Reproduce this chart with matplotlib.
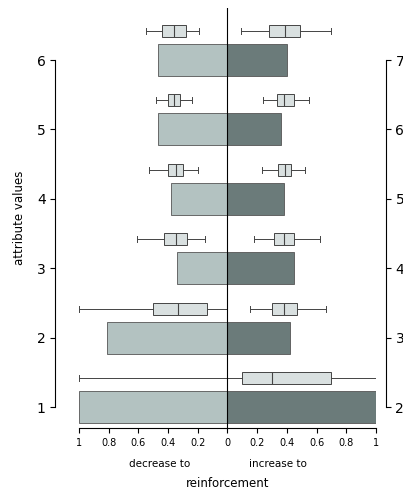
import matplotlib
matplotlib.use("Agg")
import matplotlib.pyplot as plt

levels = [1, 2, 3, 4, 5, 6]
right_labels = ["2", "3", "4", "5", "6", "7"]
decrease = [1.0, 0.81, 0.34, 0.38, 0.47, 0.47]
increase = [1.0, 0.42, 0.45, 0.38, 0.36, 0.40]

# box stats as (whislo, q1, med, q3, whishi), signed: left side negative
left_boxes = [None,
              (-1.0, -0.50, -0.33, -0.14, 0.0),
              (-0.61, -0.43, -0.35, -0.27, -0.15),
              (-0.53, -0.40, -0.35, -0.30, -0.20),
              (-0.48, -0.40, -0.36, -0.32, -0.24),
              (-0.55, -0.44, -0.36, -0.28, -0.19)]
right_boxes = [(-1.0, 0.10, 0.30, 0.70, 1.0),
               (0.15, 0.30, 0.38, 0.47, 0.66),
               (0.18, 0.31, 0.38, 0.45, 0.62),
               (0.23, 0.34, 0.39, 0.43, 0.52),
               (0.24, 0.33, 0.38, 0.45, 0.55),
               (0.09, 0.28, 0.39, 0.49, 0.70)]

fig = plt.figure(figsize=(4.03, 4.96), dpi=100)
ax = fig.add_axes([0.196, 0.137, 0.737, 0.847])

ax.barh(levels, [-d for d in decrease], height=0.46, color="#b3c2c1", edgecolor="#555555", linewidth=0.6)
ax.barh(levels, increase, height=0.46, color="#6b7b7a", edgecolor="#555555", linewidth=0.6)

stats = []
pos = []
for lv, lb, rb in zip(levels, left_boxes, right_boxes):
    for b in (lb, rb):
        if b is None:
            continue
        stats.append(dict(whislo=b[0], q1=b[1], med=b[2], q3=b[3], whishi=b[4], fliers=[]))
        pos.append(lv + 0.42)
ax.bxp(stats, positions=pos, orientation="horizontal", widths=0.17, patch_artist=True,
       boxprops=dict(facecolor="#d9e0e0", edgecolor="#444444", linewidth=0.7),
       medianprops=dict(color="#444444", linewidth=0.8),
       whiskerprops=dict(color="#444444", linewidth=0.7),
       capprops=dict(color="#444444", linewidth=0.7))

ax.axvline(0, color="black", linewidth=0.8)
ax.set_xlim(-1.0, 1.0)
ax.set_ylim(0.7, 6.75)
ax.set_xticks([-1, -0.8, -0.6, -0.4, -0.2, 0, 0.2, 0.4, 0.6, 0.8, 1])
ax.set_xticklabels(["1", "0.8", "0.6", "0.4", "0.2", "0", "0.2", "0.4", "0.6", "0.8", "1"], fontsize=7)
ax.set_yticks(levels)
ax.set_yticklabels([str(l) for l in levels], fontsize=7)
ax.set_ylabel("attribute values", fontsize=8.5, labelpad=8)

ax.spines["top"].set_visible(False)
ax.spines["right"].set_visible(False)
ax.spines["left"].set_position(("outward", 17))
ax.spines["left"].set_bounds(1, 6)
ax.spines["bottom"].set_bounds(-1, 1)

ax2 = ax.twinx()
ax2.set_ylim(ax.get_ylim())
ax2.set_yticks(levels)
ax2.set_yticklabels(right_labels, fontsize=7)
for s in ["top", "left", "bottom"]:
    ax2.spines[s].set_visible(False)
ax2.spines["right"].set_position(("outward", 7))
ax2.spines["right"].set_bounds(1, 6)

fig.text(0.395, 0.058, "decrease to", fontsize=7.5, ha="center")
fig.text(0.69, 0.058, "increase to", fontsize=7.5, ha="center")
fig.text(0.565, 0.018, "reinforcement", fontsize=8.5, ha="center")

fig.savefig("out.png", dpi=100)
